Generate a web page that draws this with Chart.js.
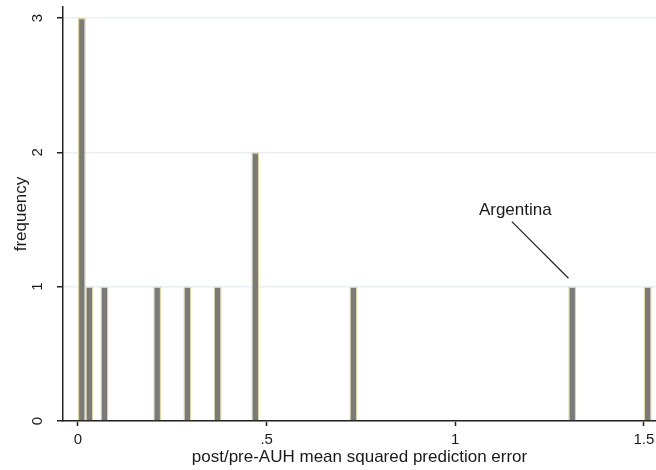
<!DOCTYPE html>
<html>
<head>
<meta charset="utf-8">
<script src="https://cdn.jsdelivr.net/npm/chart.js@4/dist/chart.umd.min.js"></script>
<style>
  html, body { margin: 0; padding: 0; background: #fff; overflow: hidden; }
</style>
</head>
<body>
<canvas id="chart" width="656" height="470"></canvas>
<script>
// histogram bins (bin centre) and their counts
const binCenters = [0.01, 0.03, 0.07, 0.21, 0.29, 0.37, 0.47, 0.73, 1.31, 1.51];
const frequency = [3, 1, 1, 1, 1, 1, 2, 1, 1, 1];

const xTicks = [0, 0.5, 1, 1.5];
const xTickLabels = ['0', '.5', '1', '1.5'];
const yTicks = [0, 1, 2, 3];

// annotation for Argentina
const labelText = 'Argentina';
const labelPos = [1.159, 1.571];
const pointerX = [1.15, 1.30];
const pointerY = [1.484, 1.0625];

const FONT = '"Liberation Sans", Arial, sans-serif';
Chart.defaults.font.family = FONT;
Chart.defaults.color = '#1a1a1a';

const annotationPlugin = {
  id: 'argLabel',
  afterDatasetsDraw(chart) {
    const { ctx, scales } = chart;
    ctx.save();
    ctx.font = '17px ' + FONT;
    ctx.fillStyle = '#1a1a1a';
    ctx.textAlign = 'center';
    ctx.textBaseline = 'middle';
    ctx.fillText(labelText, scales.x.getPixelForValue(labelPos[0]), scales.y.getPixelForValue(labelPos[1]));
    ctx.restore();
  }
};

new Chart(document.getElementById('chart'), {
  type: 'bar',
  data: {
    datasets: [
      {
        label: 'frequency',
        data: binCenters.map((x, i) => ({ x: x, y: frequency[i] })),
        backgroundColor: '#7a7a7a',
        borderColor: '#dcd7a0',
        borderWidth: 1.3,
        barPercentage: 1.05,
        categoryPercentage: 1
      },
      {
        type: 'line',
        label: 'pointer',
        data: pointerX.map((x, i) => ({ x: x, y: pointerY[i] })),
        borderColor: '#222',
        borderWidth: 1.2,
        pointRadius: 0,
        fill: false
      }
    ]
  },
  options: {
    responsive: false,
    animation: false,
    layout: { padding: { top: 7, right: 0, left: 0, bottom: 0 } },
    plugins: {
      legend: { display: false },
      tooltip: { enabled: false }
    },
    scales: {
      x: {
        type: 'linear',
        offset: false,
        min: -0.03975,
        max: 1.532,
        afterBuildTicks: (scale) => { scale.ticks = xTicks.map(v => ({ value: v })); },
        afterFit: (scale) => {
          scale.height = 49;
          scale.paddingLeft = 0;
          scale.paddingRight = 0;
        },
        ticks: {
          font: { size: 15 },
          padding: 5,
          maxRotation: 0,
          callback: (v) => xTickLabels[xTicks.indexOf(v)]
        },
        grid: { offset: false, drawOnChartArea: false, drawTicks: true, tickLength: 5, tickColor: '#222', tickWidth: 1.5 },
        border: { display: true, color: '#222', width: 1.5 },
        title: { display: true, text: 'post/pre-AUH mean squared prediction error', font: { size: 17 }, padding: { top: 0, bottom: 2 } }
      },
      y: {
        min: 0,
        max: 3.082,
        afterBuildTicks: (scale) => { scale.ticks = yTicks.map(v => ({ value: v })); },
        afterFit: (scale) => {
          scale.width = 63;
          scale.paddingTop = 0;
          scale.paddingBottom = 0;
        },
        ticks: {
          font: { size: 15 },
          padding: 15,
          minRotation: 90,
          maxRotation: 90,
          crossAlign: 'center'
        },
        grid: { color: '#e6eff1', lineWidth: 1.5, tickLength: 6, tickColor: '#222', tickWidth: 1.5 },
        border: { display: true, color: '#222', width: 1.5 },
        title: { display: true, text: 'frequency', font: { size: 17 }, padding: { top: 11, bottom: 0 } }
      }
    }
  },
  plugins: [annotationPlugin]
});
</script>
</body>
</html>
